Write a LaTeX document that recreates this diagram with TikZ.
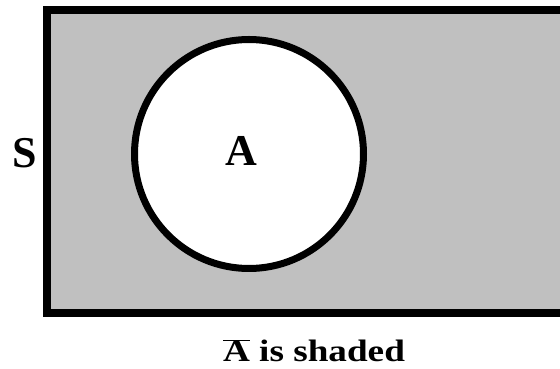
\documentclass[tikz,border=0pt]{standalone}
\usepackage{fontspec}
\setmainfont{Liberation Serif}
\usepackage{tikz}
\usetikzlibrary{positioning}
\definecolor{myshade}{RGB}{192,192,192}
\tikzset{
  setlabel/.style={font=\fontsize{44}{50}\selectfont\bfseries, inner sep=0pt},
  caption/.style={font=\fontsize{31}{36}\selectfont\bfseries, inner sep=0pt}
}
\begin{document}
\begin{tikzpicture}[x=1pt, y=1pt]
  \useasboundingbox (0,0) rectangle (560,369);
  \clip (0,0) rectangle (560,369);

  % Universe S
  \draw[line width=8pt, fill=myshade] (47,56) rectangle (600,358.5);
  \node[setlabel] (S) at (25,216) {S};

  % Set A
  \draw[line width=7pt, fill=white] (249,215) circle (114.5);
  \node[setlabel] (A) at (241,218) {A};

  % Caption
  \node[caption, anchor=base] (cap) at (314,7) {\scalebox{1.2}[1]{$\overline{\mbox{A}}$ is shaded}};
\end{tikzpicture}
\end{document}
